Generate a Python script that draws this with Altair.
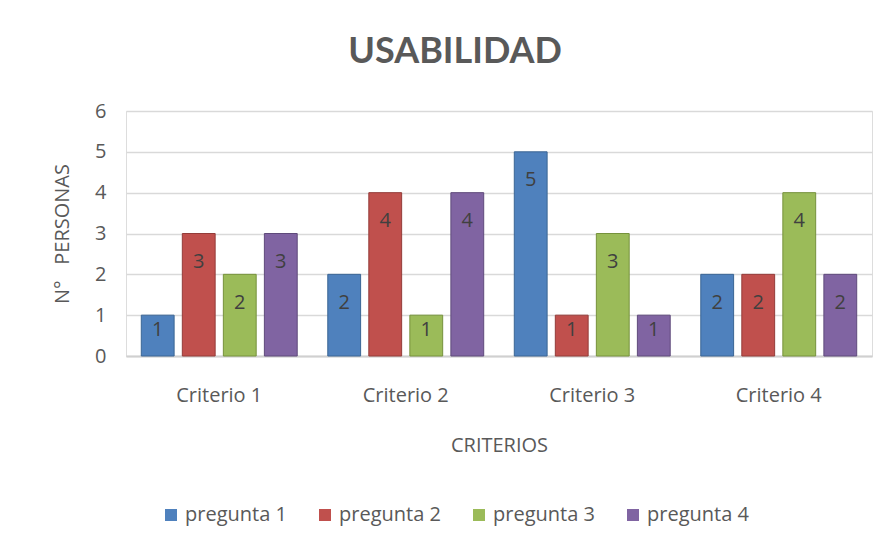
import altair as alt
import pandas as pd

criterios = ["Criterio 1", "Criterio 2", "Criterio 3", "Criterio 4"]
series = ["pregunta 1", "pregunta 2", "pregunta 3", "pregunta 4"]
pregunta_1 = [1, 2, 5, 2]
pregunta_2 = [3, 4, 1, 2]
pregunta_3 = [2, 1, 3, 4]
pregunta_4 = [3, 4, 1, 2]
y_ticks = [0, 1, 2, 3, 4, 5, 6]

rows = []
for s, vals in zip(series, [pregunta_1, pregunta_2, pregunta_3, pregunta_4]):
    for c, v in zip(criterios, vals):
        rows.append({"criterio": c, "serie": s, "valor": v})
df = pd.DataFrame(rows)

FONT = "Open Sans"
TFONT = "Lato"
FS = 20
TXT = "#595959"
colors = ["#4F81BD", "#C0504D", "#9BBB59", "#8064A2"]
strokes = ["#3A6594", "#943C39", "#76923C", "#5F4A7B"]

x_enc = alt.X(
    "criterio:N", sort=criterios,
    scale=alt.Scale(paddingInner=0.12, paddingOuter=0.06),
    axis=alt.Axis(title="CRITERIOS", labelAngle=0, labelFont=FONT, labelFontSize=FS,
                  labelColor=TXT, titleFont=FONT, titleFontSize=FS, titleFontWeight="normal",
                  titleColor=TXT, ticks=False, labelPadding=29, titlePadding=30,
                  domainColor="#D0D0D0", domainWidth=2),
)
xo_enc = alt.XOffset("serie:N", sort=series, scale=alt.Scale(paddingInner=0.2, paddingOuter=0.1))
y_axis = alt.Axis(title="N°\u00a0\u00a0\u00a0PERSONAS", values=y_ticks, labelFont=FONT,
                  labelFontSize=FS, labelColor=TXT, titleFont=FONT, titleFontSize=FS,
                  titleFontWeight="normal", titleColor=TXT, ticks=False, domain=False,
                  labelPadding=20, titlePadding=22, gridColor="#D9D9D9", gridWidth=1.5)
y_scale = alt.Scale(domain=[0, 6], nice=False)

bars = alt.Chart(df).mark_bar(strokeWidth=1).encode(
    x=x_enc,
    xOffset=xo_enc,
    y=alt.Y("valor:Q", scale=y_scale, axis=y_axis),
    color=alt.Color("serie:N", sort=series,
                    scale=alt.Scale(domain=series, range=colors),
                    legend=alt.Legend(title=None, orient="none", legendX=35, legendY=394,
                                      direction="horizontal", symbolType="square",
                                      symbolSize=144, labelFont=FONT, labelFontSize=FS,
                                      labelColor=TXT, columnPadding=28, symbolStrokeWidth=0)),
    stroke=alt.Stroke("serie:N", scale=alt.Scale(domain=series, range=strokes), legend=None),
)

labels = alt.Chart(df).transform_calculate(
    ypos="max(datum.valor - 0.69, 0.64)"
).mark_text(font=FONT, fontSize=FS, color="#404040", baseline="middle").encode(
    x=x_enc,
    xOffset=xo_enc,
    y=alt.Y("ypos:Q", scale=y_scale, axis=y_axis),
    text="valor:Q",
)

chart = alt.layer(bars, labels).properties(
    width=746, height=245,
    title=alt.TitleParams("USABILIDAD", font=TFONT, fontSize=36, fontWeight="bold",
                          color=TXT, anchor="middle", dx=-44, offset=30),
    autosize=alt.AutoSizeParams(type="none"),
    padding={"left": 118, "top": 103, "right": 9, "bottom": 180},
).configure_view(stroke=None).configure(background="white")

chart.save("out.html", embed_options={"renderer": "svg", "actions": False})
